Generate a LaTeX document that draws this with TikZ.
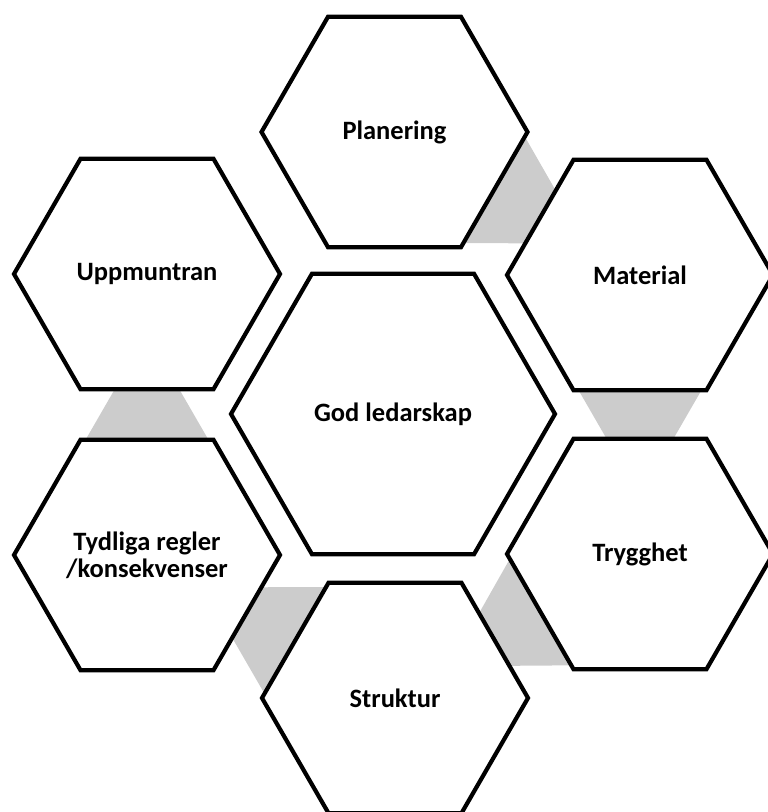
\documentclass[tikz,border=0pt]{standalone}
\usepackage{fontspec}
\setmainfont{Carlito}
\usepackage{tikz}
\usetikzlibrary{backgrounds,calc,shapes.geometric}
\definecolor{linkgray}{RGB}{204,204,204}
\tikzset{
  hexa/.style={regular polygon, regular polygon sides=6, minimum size=266pt,
    inner sep=0pt, draw=black, line width=4.2pt, fill=white, align=center,
    font=\bfseries\fontsize{26.5}{27}\selectfont},
  bighexa/.style={hexa, minimum size=324pt}
}

\begin{document}
\begin{tikzpicture}[x=1pt,y=1pt]
\useasboundingbox (0,0) rectangle (768,812);
\node[bighexa] (god) at (393,398) {God ledarskap};
\node[hexa] (plan) at (394.5,680) {Planering};
\node[hexa] (mat) at (640,537) {Material};
\node[hexa] (tryg) at (640,258) {Trygghet};
\node[hexa] (strukt) at (395,114) {Struktur};
\node[hexa] (regl) at (147,257) {Tydliga regler\\/konsekvenser};
\node[hexa] (uppm) at (147,538) {Uppmuntran};
% grey links, wide end at the first hexagon
\begin{scope}[on background layer]
\foreach \a/\b in {plan/mat, mat/tryg, tryg/strukt, strukt/regl, regl/uppm} {
  \coordinate (n1) at ($(\a.center)!90pt!(\b.center)$);
  \coordinate (n2) at ($(\a.center)!200pt!(\b.center)$);
  \fill[linkgray] ($(n1)!76pt!90:(\b.center)$) -- ($(n2)!12.5pt!90:(\b.center)$)
    -- ($(n2)!12.5pt!-90:(\b.center)$) -- ($(n1)!76pt!-90:(\b.center)$) -- cycle;
}
\end{scope}
\end{tikzpicture}
\end{document}
